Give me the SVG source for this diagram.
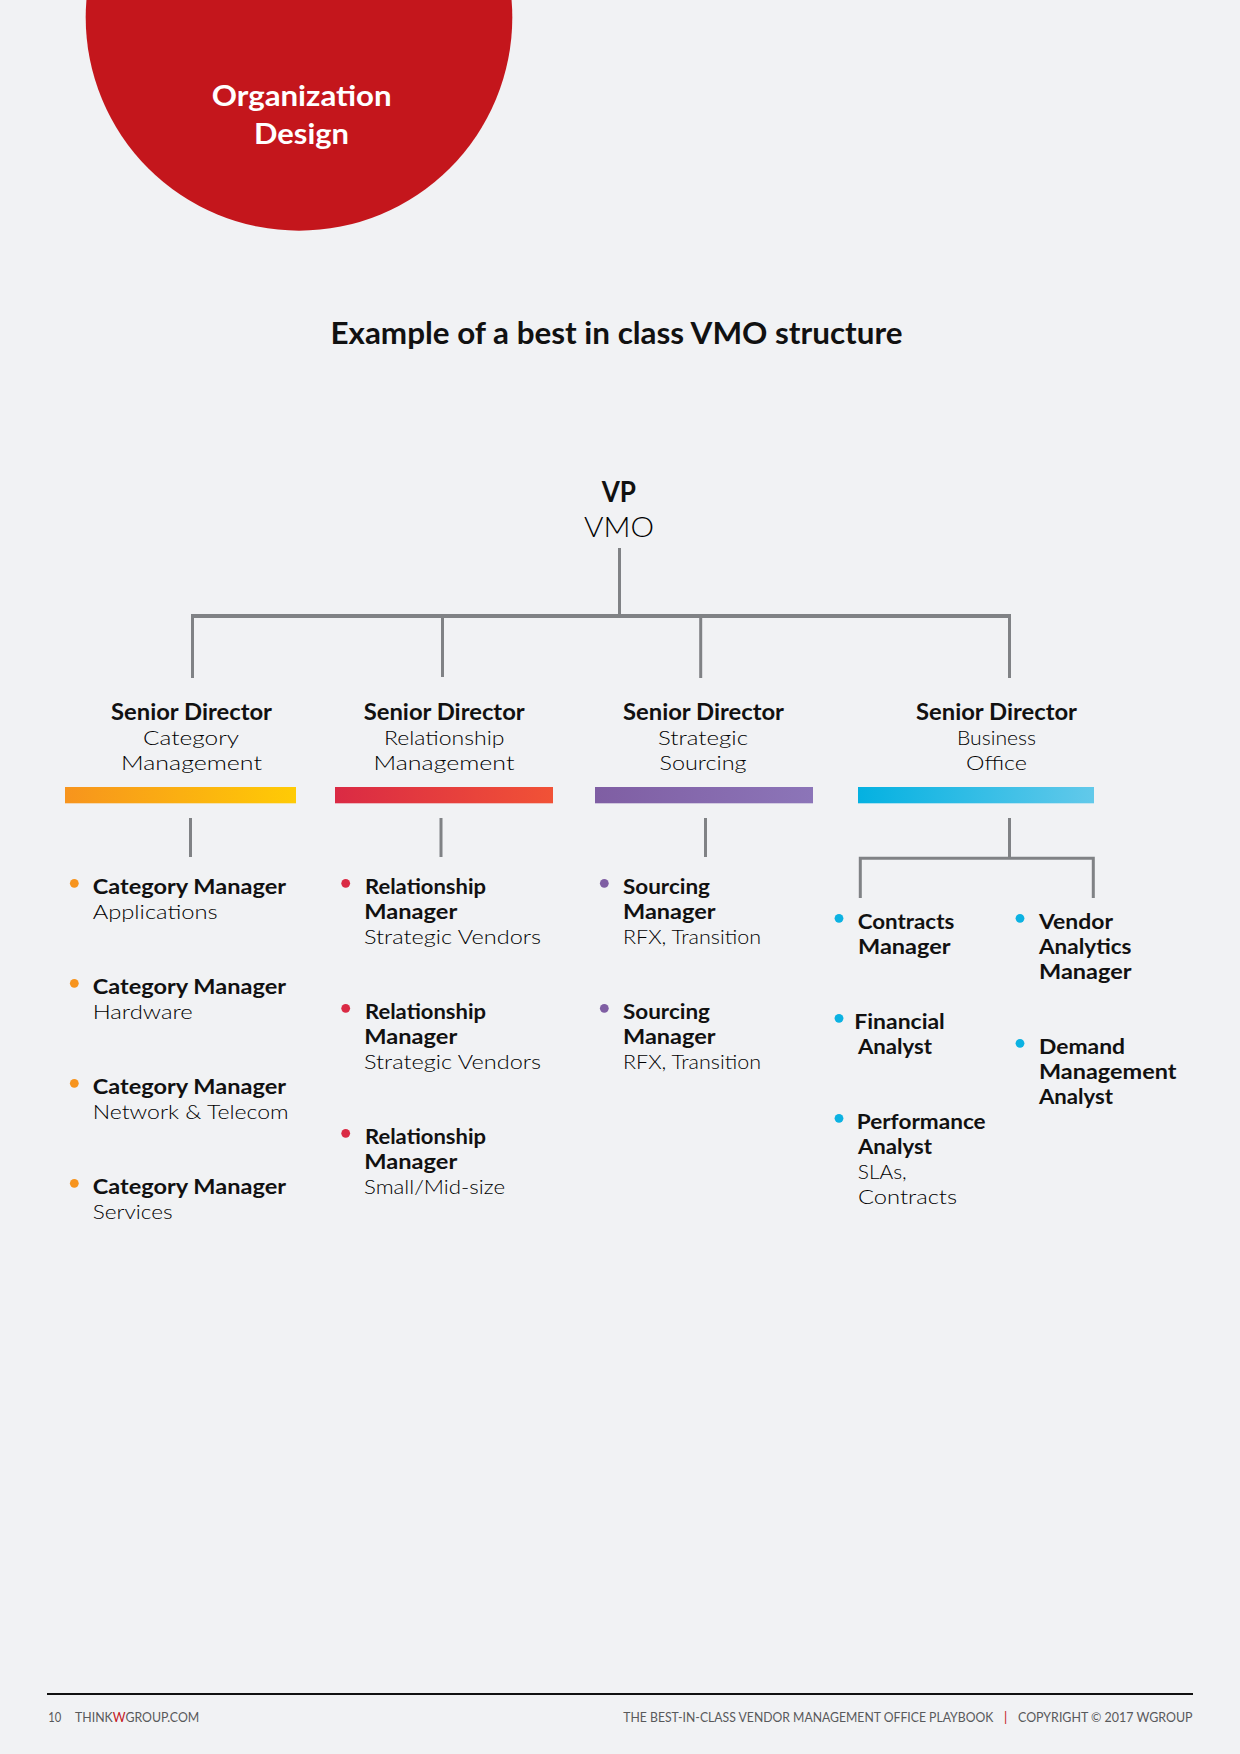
<svg xmlns="http://www.w3.org/2000/svg" width="1240" height="1754" viewBox="0 0 1240 1754">
<style>
text{font-family:"Lato","Liberation Sans",sans-serif;fill:#111;}
.t{font-size:20px;font-weight:700;}
.s{font-size:20px;font-weight:300;fill:#000;}
.h{font-size:22px;font-weight:700;}
.f{font-size:13px;font-weight:400;fill:#58595b;}
.c{fill:none;stroke:#808285;stroke-width:3;}
.m{fill:none;stroke:#808285;stroke-width:4;}
.o{fill:#f7941d}.r{fill:#da2a44}.p{fill:#7f5ea3}.u{fill:#0cb2e2}
</style>
<defs>
<linearGradient id="gO"><stop offset="0" stop-color="#f7941d"/><stop offset="1" stop-color="#ffcb05"/></linearGradient>
<linearGradient id="gR"><stop offset="0" stop-color="#da2a44"/><stop offset="1" stop-color="#f15236"/></linearGradient>
<linearGradient id="gP"><stop offset="0" stop-color="#7f5ea3"/><stop offset="1" stop-color="#8c75b8"/></linearGradient>
<linearGradient id="gB"><stop offset="0" stop-color="#04b1e1"/><stop offset="1" stop-color="#62c9ea"/></linearGradient>
</defs>
<rect width="1240" height="1754" fill="#f1f2f4"/>
<g id="header">
<circle cx="299" cy="17.4" r="213.3" fill="#c4161c"/>
<text x="211.7" y="106" font-size="29" font-weight="700" style="fill:#fff" textLength="180" lengthAdjust="spacingAndGlyphs">Organization</text>
<text x="254" y="144" font-size="29" font-weight="700" style="fill:#fff" textLength="95" lengthAdjust="spacingAndGlyphs">Design</text>
</g>
<text id="title" x="330.5" y="344.3" font-size="30" font-weight="700" textLength="572" lengthAdjust="spacingAndGlyphs">Example of a best in class VMO structure</text>
<g id="connectors">
<path class="c" d="M619.5 548V616"/>
<path class="m" d="M191 616H1011"/>
<path class="c" d="M192.5 616V678M1009.5 616V678M442.5 616V677M700.7 616V678"/>
<path class="c" d="M190.5 818V857M441 818V857M705.5 818V857M1009.5 818V858"/>
<path class="c" d="M860.3 898V858.3H1093.3V898"/>
</g>
<g id="node-vp">
<text x="601.7" y="501.7" font-size="28" font-weight="700" textLength="34.3" lengthAdjust="spacingAndGlyphs">VP</text>
<text x="584" y="536.7" font-size="28" font-weight="300" style="fill:#000" textLength="70" lengthAdjust="spacingAndGlyphs">VMO</text>
</g>
<g id="node-category">
<text class="h" x="111" y="720.3" textLength="161" lengthAdjust="spacingAndGlyphs">Senior Director</text>
<text class="s" x="143" y="745" textLength="96" lengthAdjust="spacingAndGlyphs">Category</text>
<text class="s" x="121" y="770" textLength="141" lengthAdjust="spacingAndGlyphs">Management</text>
<rect x="65" y="787" width="231" height="16.3" fill="url(#gO)"/>
</g>
<g id="node-relationship">
<text class="h" x="363.7" y="720.3" textLength="161" lengthAdjust="spacingAndGlyphs">Senior Director</text>
<text class="s" x="384" y="745" textLength="120.5" lengthAdjust="spacingAndGlyphs">Relationship</text>
<text class="s" x="373.5" y="770" textLength="141" lengthAdjust="spacingAndGlyphs">Management</text>
<rect x="335" y="787" width="218" height="16.3" fill="url(#gR)"/>
</g>
<g id="node-sourcing">
<text class="h" x="623" y="720.3" textLength="161" lengthAdjust="spacingAndGlyphs">Senior Director</text>
<text class="s" x="658" y="745" textLength="90" lengthAdjust="spacingAndGlyphs">Strategic</text>
<text class="s" x="659.5" y="770" textLength="87" lengthAdjust="spacingAndGlyphs">Sourcing</text>
<rect x="595" y="787" width="218" height="16.3" fill="url(#gP)"/>
</g>
<g id="node-business">
<text class="h" x="916" y="720.3" textLength="161" lengthAdjust="spacingAndGlyphs">Senior Director</text>
<text class="s" x="957" y="745" textLength="79" lengthAdjust="spacingAndGlyphs">Business</text>
<text class="s" x="966" y="770" textLength="61" lengthAdjust="spacingAndGlyphs">Office</text>
<rect x="858" y="787" width="236" height="16.3" fill="url(#gB)"/>
</g>
<g id="list-category">
<circle class="o" cx="74.3" cy="883.3" r="4.4"/>
<text class="t" x="92.7" y="894.3" textLength="193.3" lengthAdjust="spacingAndGlyphs">Category Manager</text>
<text class="s" x="92.7" y="918.6" textLength="125" lengthAdjust="spacingAndGlyphs">Applications</text>
<circle class="o" cx="74.3" cy="983.3" r="4.4"/>
<text class="t" x="92.7" y="994.3" textLength="193.3" lengthAdjust="spacingAndGlyphs">Category Manager</text>
<text class="s" x="92.7" y="1018.6" textLength="100" lengthAdjust="spacingAndGlyphs">Hardware</text>
<circle class="o" cx="74.3" cy="1083.3" r="4.4"/>
<text class="t" x="92.7" y="1094.3" textLength="193.3" lengthAdjust="spacingAndGlyphs">Category Manager</text>
<text class="s" x="92.7" y="1118.6" textLength="196" lengthAdjust="spacingAndGlyphs">Network &amp; Telecom</text>
<circle class="o" cx="74.3" cy="1183.3" r="4.4"/>
<text class="t" x="92.7" y="1194.3" textLength="193.3" lengthAdjust="spacingAndGlyphs">Category Manager</text>
<text class="s" x="92.7" y="1218.6" textLength="80" lengthAdjust="spacingAndGlyphs">Services</text>
</g>
<g id="list-relationship">
<circle class="r" cx="345.7" cy="883.3" r="4.4"/>
<text class="t" x="365" y="894.3" textLength="121" lengthAdjust="spacingAndGlyphs">Relationship</text>
<text class="t" x="364.3" y="918.8" textLength="93" lengthAdjust="spacingAndGlyphs">Manager</text>
<text class="s" x="364" y="943.6" textLength="177" lengthAdjust="spacingAndGlyphs">Strategic Vendors</text>
<circle class="r" cx="345.7" cy="1008.3" r="4.4"/>
<text class="t" x="365" y="1019.3" textLength="121" lengthAdjust="spacingAndGlyphs">Relationship</text>
<text class="t" x="364.3" y="1043.8" textLength="93" lengthAdjust="spacingAndGlyphs">Manager</text>
<text class="s" x="364" y="1068.6" textLength="177" lengthAdjust="spacingAndGlyphs">Strategic Vendors</text>
<circle class="r" cx="345.7" cy="1133.3" r="4.4"/>
<text class="t" x="365" y="1144.3" textLength="121" lengthAdjust="spacingAndGlyphs">Relationship</text>
<text class="t" x="364.3" y="1168.8" textLength="93" lengthAdjust="spacingAndGlyphs">Manager</text>
<text class="s" x="364" y="1193.6" textLength="141" lengthAdjust="spacingAndGlyphs">Small/Mid-size</text>
</g>
<g id="list-sourcing">
<circle class="p" cx="604.3" cy="883.3" r="4.4"/>
<text class="t" x="623" y="894.3" textLength="87" lengthAdjust="spacingAndGlyphs">Sourcing</text>
<text class="t" x="623" y="918.8" textLength="92.5" lengthAdjust="spacingAndGlyphs">Manager</text>
<text class="s" x="623" y="943.6" textLength="138" lengthAdjust="spacingAndGlyphs">RFX, Transition</text>
<circle class="p" cx="604.3" cy="1008.3" r="4.4"/>
<text class="t" x="623" y="1019.3" textLength="87" lengthAdjust="spacingAndGlyphs">Sourcing</text>
<text class="t" x="623" y="1043.8" textLength="92.5" lengthAdjust="spacingAndGlyphs">Manager</text>
<text class="s" x="623" y="1068.6" textLength="138" lengthAdjust="spacingAndGlyphs">RFX, Transition</text>
</g>
<g id="list-business">
<circle class="u" cx="839" cy="918.3" r="4.4"/>
<text class="t" x="857.7" y="929" textLength="96.6" lengthAdjust="spacingAndGlyphs">Contracts</text>
<text class="t" x="858" y="954" textLength="92.5" lengthAdjust="spacingAndGlyphs">Manager</text>
<circle class="u" cx="839" cy="1018.3" r="4.4"/>
<text class="t" x="854.3" y="1029" textLength="90.5" lengthAdjust="spacingAndGlyphs">Financial</text>
<text class="t" x="858" y="1054" textLength="74" lengthAdjust="spacingAndGlyphs">Analyst</text>
<circle class="u" cx="839" cy="1118.3" r="4.4"/>
<text class="t" x="856.7" y="1129" textLength="129" lengthAdjust="spacingAndGlyphs">Performance</text>
<text class="t" x="858" y="1154" textLength="74" lengthAdjust="spacingAndGlyphs">Analyst</text>
<text class="s" x="857.7" y="1179" textLength="49" lengthAdjust="spacingAndGlyphs">SLAs,</text>
<text class="s" x="858" y="1204" textLength="99" lengthAdjust="spacingAndGlyphs">Contracts</text>
<circle class="u" cx="1020" cy="918.3" r="4.4"/>
<text class="t" x="1039" y="929" textLength="74" lengthAdjust="spacingAndGlyphs">Vendor</text>
<text class="t" x="1039" y="954" textLength="92.5" lengthAdjust="spacingAndGlyphs">Analytics</text>
<text class="t" x="1039" y="979" textLength="92.5" lengthAdjust="spacingAndGlyphs">Manager</text>
<circle class="u" cx="1020" cy="1043.3" r="4.4"/>
<text class="t" x="1039" y="1054" textLength="86" lengthAdjust="spacingAndGlyphs">Demand</text>
<text class="t" x="1039" y="1079" textLength="137.5" lengthAdjust="spacingAndGlyphs">Management</text>
<text class="t" x="1039" y="1104" textLength="74" lengthAdjust="spacingAndGlyphs">Analyst</text>
</g>
<g id="footer">
<rect x="47" y="1693" width="1146" height="2" fill="#111"/>
<text class="f" x="48.3" y="1721.7" textLength="13" lengthAdjust="spacingAndGlyphs">10</text>
<text class="f" x="75" y="1721.7" textLength="124.3" lengthAdjust="spacingAndGlyphs">THINK<tspan style="fill:#c4161c">W</tspan>GROUP.COM</text>
<text class="f" x="623.3" y="1721.7" textLength="370" lengthAdjust="spacingAndGlyphs">THE BEST-IN-CLASS VENDOR MANAGEMENT OFFICE PLAYBOOK</text>
<text class="f" x="1004" y="1721.7" style="fill:#c4161c">|</text>
<text class="f" x="1018" y="1721.7" textLength="174.5" lengthAdjust="spacingAndGlyphs">COPYRIGHT © 2017 WGROUP</text>
</g>
</svg>
